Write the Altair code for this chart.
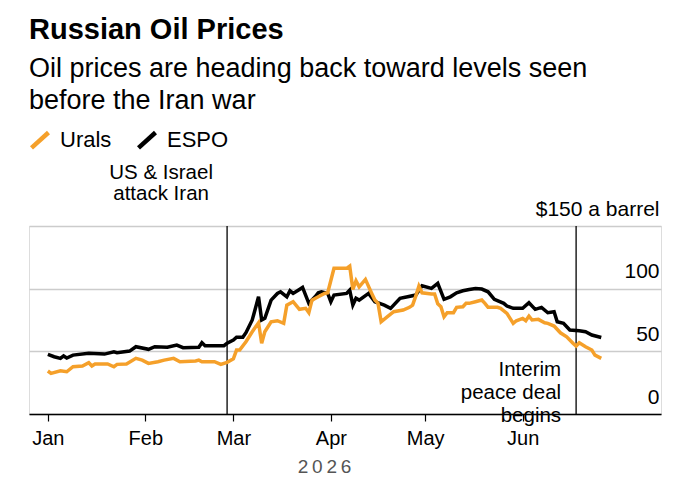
import altair as alt
import pandas as pd

FONT = "Liberation Sans"

espo_dates = [
    "2026-01-01", "2026-01-03", "2026-01-05", "2026-01-06", "2026-01-07", "2026-01-09",
    "2026-01-14", "2026-01-19", "2026-01-22", "2026-01-23", "2026-01-27", "2026-01-29",
    "2026-02-02", "2026-02-04", "2026-02-08", "2026-02-11", "2026-02-13", "2026-02-18",
    "2026-02-19", "2026-02-20", "2026-02-26", "2026-02-27", "2026-03-01", "2026-03-02",
    "2026-03-04", "2026-03-05", "2026-03-07", "2026-03-09", "2026-03-10", "2026-03-11",
    "2026-03-13", "2026-03-15", "2026-03-16", "2026-03-18", "2026-03-19", "2026-03-20",
    "2026-03-22", "2026-03-23", "2026-03-25", "2026-03-27", "2026-03-28", "2026-03-29",
    "2026-03-31", "2026-04-01", "2026-04-02", "2026-04-06", "2026-04-07", "2026-04-08",
    "2026-04-09", "2026-04-10", "2026-04-13", "2026-04-15", "2026-04-18", "2026-04-20",
    "2026-04-23", "2026-04-28", "2026-04-30", "2026-05-03", "2026-05-05", "2026-05-07",
    "2026-05-09", "2026-05-11", "2026-05-13", "2026-05-15", "2026-05-17", "2026-05-19",
    "2026-05-21", "2026-05-23", "2026-05-26", "2026-05-27", "2026-05-29", "2026-06-01",
    "2026-06-03", "2026-06-05", "2026-06-07", "2026-06-09", "2026-06-11", "2026-06-12",
    "2026-06-14", "2026-06-16", "2026-06-19", "2026-06-21", "2026-06-23", "2026-06-26",
]
espo_values = [
    47.6, 45.7, 44.4, 46.3, 44.7, 47.0,
    48.4, 47.8, 49.7, 48.9, 50.2, 53.7,
    51.6, 53.7, 53.2, 55.0, 52.9, 53.2,
    56.9, 54.5, 54.5, 56.4, 59.0, 61.2,
    61.2, 64.9, 75.0, 93.5, 75.0, 76.3,
    90.9, 96.2, 97.5, 93.5, 98.3, 96.2,
    99.4, 101.0, 88.3, 93.5, 96.7, 97.5,
    96.2, 89.6, 94.9, 96.2, 98.9, 86.9,
    92.3, 90.9, 96.2, 89.6, 86.9, 84.3,
    92.3, 94.9, 102.3, 100.2, 104.2, 91.5,
    93.5, 96.7, 98.3, 99.4, 100.2, 99.7,
    97.5, 91.5, 88.3, 86.1, 84.3, 84.3,
    88.8, 83.5, 85.1, 80.8, 81.6, 73.6,
    72.3, 67.0, 66.4, 65.6, 63.0, 61.0,
]

urals_dates = [
    "2026-01-01", "2026-01-02", "2026-01-05", "2026-01-07", "2026-01-09", "2026-01-12",
    "2026-01-14", "2026-01-15", "2026-01-16", "2026-01-20", "2026-01-22", "2026-01-23",
    "2026-01-26", "2026-01-29", "2026-01-31", "2026-02-02", "2026-02-05", "2026-02-07",
    "2026-02-10", "2026-02-12", "2026-02-17", "2026-02-18", "2026-02-19", "2026-02-23",
    "2026-02-25", "2026-02-27", "2026-03-01", "2026-03-02", "2026-03-03", "2026-03-05",
    "2026-03-07", "2026-03-09", "2026-03-10", "2026-03-11", "2026-03-13", "2026-03-15",
    "2026-03-17", "2026-03-18", "2026-03-20", "2026-03-22", "2026-03-24", "2026-03-25",
    "2026-03-26", "2026-03-28", "2026-03-30", "2026-03-31", "2026-04-02", "2026-04-06",
    "2026-04-07", "2026-04-08", "2026-04-09", "2026-04-10", "2026-04-12", "2026-04-14",
    "2026-04-15", "2026-04-16", "2026-04-17", "2026-04-19", "2026-04-21", "2026-04-24",
    "2026-04-26", "2026-04-27", "2026-04-28", "2026-04-29", "2026-04-30", "2026-05-03",
    "2026-05-04", "2026-05-05", "2026-05-06", "2026-05-07", "2026-05-08", "2026-05-10",
    "2026-05-11", "2026-05-13", "2026-05-14", "2026-05-15", "2026-05-17", "2026-05-19",
    "2026-05-20", "2026-05-21", "2026-05-24", "2026-05-25", "2026-05-27", "2026-05-29",
    "2026-05-30", "2026-06-01", "2026-06-02", "2026-06-03", "2026-06-04", "2026-06-06",
    "2026-06-08", "2026-06-09", "2026-06-11", "2026-06-13", "2026-06-15", "2026-06-17",
    "2026-06-18", "2026-06-19", "2026-06-21", "2026-06-23", "2026-06-24", "2026-06-26",
]
urals_values = [
    34.3, 32.4, 34.5, 33.7, 37.7, 38.3,
    40.9, 38.3, 39.9, 39.9, 37.7, 39.6,
    39.9, 44.4, 43.0, 40.4, 41.7, 43.0,
    44.4, 41.7, 42.3, 43.0, 41.7, 41.7,
    39.6, 41.2, 44.0, 51.0, 51.0, 57.7,
    65.6, 72.8, 56.4, 65.6, 73.6, 74.4,
    72.3, 86.9, 89.6, 83.5, 84.3, 80.8,
    90.9, 93.5, 96.2, 96.7, 116.2, 116.2,
    118.0, 99.4, 106.3, 101.5, 107.4, 96.2,
    90.9, 88.3, 73.6, 77.6, 81.6, 82.9,
    85.1, 86.9, 94.0, 102.0, 96.7, 95.7,
    95.7, 88.0, 85.6, 77.6, 80.8, 80.8,
    85.1, 85.6, 88.3, 88.3, 89.6, 90.9,
    88.3, 85.1, 85.1, 84.3, 80.3, 72.3,
    74.4, 76.3, 74.4, 78.1, 75.0, 75.5,
    72.8, 72.3, 70.2, 64.8, 61.6, 56.4,
    54.2, 56.9, 53.7, 51.0, 47.0, 44.4,
]

series_names = ["Urals", "ESPO"]
series_colors = ["#f5a02a", "#000000"]
month_ticks = [1, 2, 3, 4, 5, 6]
y_ticks = [0, 50, 100, 150]
event_dates = ["2026-02-27", "2026-06-18"]
event_labels = [["US & Israel", "attack Iran"], ["Interim", "peace deal", "begins"]]
year_label = "2\u20090\u20092\u20096"

espo_df = pd.DataFrame({"date": pd.to_datetime(espo_dates), "price": espo_values, "series": "ESPO"})
urals_df = pd.DataFrame({"date": pd.to_datetime(urals_dates), "price": urals_values, "series": "Urals"})
events_df = pd.DataFrame({"date": pd.to_datetime(event_dates)})
ann1_df = pd.DataFrame({"date": pd.to_datetime([event_dates[0]]), "price": [150], "label": [event_labels[0]]})
ann2_df = pd.DataFrame({"date": pd.to_datetime([event_dates[1]]), "price": [0], "label": [event_labels[1]]})

x_scale = alt.Scale(domain=[alt.DateTime(year=2025, month=12, date=26),
                            alt.DateTime(year=2026, month=7, date=15)])
y_scale = alt.Scale(domain=[0, 150], nice=False)
color_scale = alt.Scale(domain=series_names, range=series_colors)

x_axis = alt.Axis(
    values=[alt.DateTime(year=2026, month=m, date=1) for m in month_ticks],
    format="%b", grid=False, labelFont=FONT, labelFontSize=20, labelColor="black",
    labelPadding=7, labelFlush=False,
    tickColor="black", tickSize=7, tickWidth=1.2,
    domainColor="black", domainWidth=1.5,
    title=year_label, titleFont=FONT, titleFontSize=19, titleFontWeight="normal",
    titleColor="#555555", titleX=295, titleY=58, titleBaseline="alphabetic",
    titleAlign="center", zindex=1,
)
y_axis = alt.Axis(
    orient="right", values=y_ticks, grid=True, gridColor="#cccccc", gridWidth=1.5,
    domain=False, ticks=False, tickSize=0, labelAlign="right",
    labelBaseline="alphabetic", labelPadding=-2, labelOffset=-11,
    labelFont=FONT, labelFontSize=21, labelColor="black",
    labelExpr="datum.value == 150 ? '$150 a barrel' : datum.label", title=None,
)

legend = alt.Legend(
    title=None, orient="none", legendX=0, legendY=-97, direction="horizontal",
    symbolType="M-1,0.9L1,-0.9", symbolSize=289, symbolStrokeWidth=4.5,
    labelFont=FONT, labelFontSize=22, labelColor="black", labelOffset=9,
    columnPadding=17,
)

espo_line = alt.Chart(espo_df).mark_line(strokeWidth=3.5).encode(
    x=alt.X("date:T", scale=x_scale, axis=x_axis),
    y=alt.Y("price:Q", scale=y_scale, axis=y_axis),
    color=alt.Color("series:N", scale=color_scale, legend=legend),
)
urals_line = alt.Chart(urals_df).mark_line(strokeWidth=3.5).encode(
    x=alt.X("date:T", scale=x_scale),
    y=alt.Y("price:Q", scale=y_scale),
    color=alt.Color("series:N", scale=color_scale, legend=legend),
)
rules = alt.Chart(events_df).mark_rule(color="black", strokeWidth=1.3).encode(
    x=alt.X("date:T", scale=x_scale),
)
ann1 = alt.Chart(ann1_df).mark_text(
    align="center", baseline="alphabetic", dx=-66, dy=-47, font=FONT,
    fontSize=20.5, lineHeight=21, color="black",
).encode(x="date:T", y="price:Q", text="label")
ann2 = alt.Chart(ann2_df).mark_text(
    align="right", baseline="alphabetic", dx=-15, dy=-38, font=FONT,
    fontSize=20.5, lineHeight=23, color="black",
).encode(x="date:T", y="price:Q", text="label")

chart = alt.layer(rules, espo_line, urals_line, ann1, ann2).properties(
    width=632, height=188,
    autosize=alt.AutoSizeParams(type="none"),
    padding={"left": 29, "top": 226, "right": 28, "bottom": 75},
    title=alt.TitleParams(
        text="Russian Oil Prices",
        subtitle=["Oil prices are heading back toward levels seen", "before the Iran war"],
        anchor="start", frame="group", font=FONT, fontSize=29, fontWeight="bold",
        color="black", subtitleFont=FONT, subtitleFontSize=27, subtitleColor="black",
        subtitleLineHeight=31.5, subtitlePadding=11, offset=15.5,
    ),
).configure_view(stroke=None).configure(background="white")

chart.save("out.html", embed_options={"renderer": "svg", "actions": False})
